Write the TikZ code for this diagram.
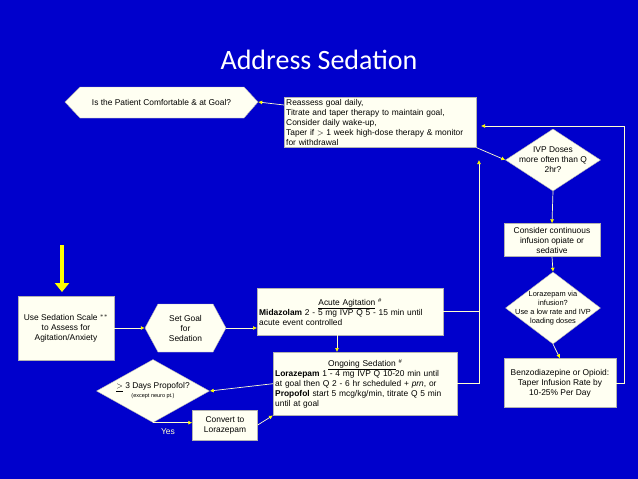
\documentclass[tikz,border=0pt]{standalone}
\usepackage{fontspec}
\setmainfont{Liberation Sans}
\newfontfamily\titlefont{Carlito}
\usetikzlibrary{shapes.geometric,arrows.meta}
\definecolor{bg}{HTML}{0000CC}
\definecolor{boxf}{HTML}{FFFFF2}
\definecolor{ln}{HTML}{FFFFCC}
\definecolor{ylw}{HTML}{FFFF00}
\tikzset{
 ft/.style={font=\fontsize{8.4}{10}\selectfont},
 bx/.style={draw=gray!60,fill=boxf,inner sep=2pt,ft,align=center},
 dia/.style={diamond,draw=gray!60,fill=boxf,inner sep=-10pt,ft,align=center,aspect=1.5},
 hx/.style={inner sep=0pt,ft,align=center},
 hxd/.style={draw=gray!60,fill=boxf},
 con/.style={draw=ln,line width=0.7pt,-{Latex[length=4pt,width=4pt,fill=ylw,color=ylw]}},
 pl/.style={draw=ln,line width=0.7pt}
}
\begin{document}
\begin{tikzpicture}[x=1pt,y=-1pt]
\fill[bg] (0,0) rectangle (638,479);
\useasboundingbox (0,0) rectangle (638,479);
\node[white,font=\titlefont\fontsize{28}{30}\selectfont] (title) at (319,60) {Address Sedation};
\fill[hxd] (65,102) -- (80,87) -- (244,87) -- (258,102) -- (244,118) -- (80,118) -- cycle;
\node[hx,minimum width=193pt,minimum height=31pt] (comf) at (161.5,102) {Is the Patient Comfortable \& at Goal?};
\node[bx,align=left,anchor=north west,text width=188pt] (reass) at (284,97)
 {Reassess goal daily,\\Titrate and taper therapy to maintain goal,\\Consider daily wake-up,\\Taper if $>$ 1 week high-dose therapy \& monitor\\for withdrawal};
\node[dia,minimum width=95pt,minimum height=62pt] (ivp) at (553,160) {IVP Doses\\more often than Q\\2hr?};
\node[bx,minimum width=96pt,minimum height=33pt] (cont) at (552,240) {Consider continuous\\infusion opiate or\\sedative};
\node[dia,minimum width=95pt,minimum height=72pt,font=\fontsize{7.4}{9}\selectfont] (lora) at (553,308) {Lorazepam via\\infusion?\\Use a low rate and IVP\\loading doses};
\node[bx,minimum width=112pt,minimum height=49pt] (benzo) at (560,383) {Benzodiazepine or Opioid:\\Taper Infusion Rate by\\10-25\% Per Day};
\node[bx,minimum width=96pt,minimum height=64pt] (use) at (66,328) {Use Sedation Scale $^{**}$\\to Assess for\\Agitation/Anxiety};
\fill[hxd] (145,328) -- (158,304) -- (213,304) -- (226,328) -- (213,352) -- (158,352) -- cycle;
\node[hx,minimum width=81pt,minimum height=48pt] (goal) at (185.5,328) {Set Goal\\for\\Sedation};
\node[bx,align=left,anchor=north west,text width=182pt,minimum height=47pt] (acute) at (257,288)
 {\hfill\underline{Acute Agitation}\ $^{\#}$\hfill\null\\\textbf{Midazolam} 2 - 5 mg IVP Q 5 - 15 min until\\acute event controlled};
\node[bx,align=left,anchor=north west,text width=180pt,minimum height=63pt] (ong) at (273,352)
 {\hfill\underline{Ongoing Sedation}\ $^{\#}$\hfill\null\\\textbf{Lorazepam} 1 - 4 mg IVP Q 10-20 min until\\at goal then Q 2 - 6 hr scheduled + \textit{prn}, or\\\textbf{Propofol} start 5 mcg/kg/min, titrate Q 5 min\\until at goal};
\node[dia,minimum width=113pt,minimum height=63pt] (prop) at (153,391) {\underline{$>$} 3 Days Propofol?\\[-1pt]{\fontsize{5.5}{7}\selectfont (except neuro pt.)}};
\node[bx,minimum width=65pt,minimum height=30pt] (conv) at (225,425) {Convert to\\Lorazepam};
\node[text=ln,font=\fontsize{8.5}{9}\selectfont] (yes) at (168,432) {Yes};
\draw[ylw,line width=4pt,-{Triangle[length=9pt,width=14pt]}] (62,245) -- (62,292) coordinate (ya);
\draw[con] (use) -- (goal.west);
\draw[con] (goal.east) -- (acute.west |- goal);
\draw[con] (acute.south -| 337,0) -- (ong.north -| 337,0);
\draw[con] (ong.west) -- (prop.east);
\draw[con] (prop.south) -- (conv.west |- prop.south);
\draw[con] (conv.east) -- (ong.south west);
\draw[con] ([yshift=-8pt]reass.north west) -- (comf.east);
\draw[con] (reass.south east) -- (ivp.west);
\draw[con] (ivp.south) -- (cont.north);
\draw[con] (cont.south) -- (lora.north);
\draw[con] (lora.south) -- (benzo.north);
\coordinate (vx) at (479,0);
\draw[pl] (acute.east) -- (acute.east -| vx);
\draw[pl] (ong.east) -- (ong.east -| vx);
\draw[con] (ong.east -| vx) -- (479,160);
\coordinate (rx) at (624,0);
\draw[con] (benzo.east) -- (benzo.east -| rx) -- (rx |- 0,126) -- (481,126);
\end{tikzpicture}
\end{document}
